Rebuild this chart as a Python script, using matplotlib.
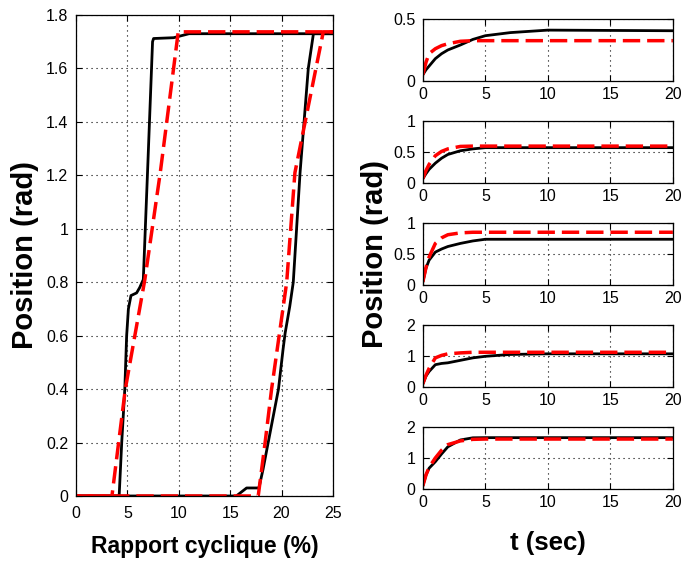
import matplotlib
matplotlib.use("Agg")
import matplotlib.pyplot as plt

plt.rcParams['font.family'] = ['Liberation Sans', 'DejaVu Sans']

# Hysteresis: position vs duty cycle
duty_meas_up = [0, 4.2, 4.45, 4.75, 4.93, 5.1, 5.35, 5.9, 6.2, 6.55, 7.0, 7.45, 7.55, 9.5, 10.2, 11, 25]
pos_meas_up = [0, 0, 0.2, 0.4, 0.6, 0.7, 0.75, 0.76, 0.78, 0.81, 1.25, 1.70, 1.712, 1.715, 1.722, 1.73, 1.73]
duty_meas_down = [25, 23.1, 22.6, 21.8, 21.14, 20.8, 20.35, 20.15, 19.7, 19.2, 18.7, 18.2, 17.8, 16.6, 15.6, 0]
pos_meas_down = [1.73, 1.73, 1.6, 1.21, 0.8, 0.71, 0.61, 0.55, 0.4, 0.3, 0.2, 0.1, 0.03, 0.03, 0.0, 0]

duty_model_up = [0, 3.5, 4.8, 6.7, 8.2, 9.95, 25]
pos_model_up = [0, 0, 0.4, 0.81, 1.21, 1.737, 1.737]
duty_model_down = [25, 24.06, 21.3, 20.5, 19.03, 18.4, 17.73, 0]
pos_model_down = [1.737, 1.737, 1.21, 0.8, 0.4, 0.2, 0, 0]

# Step responses: position vs time
t = [0, 0.25, 0.5, 1, 1.5, 2, 3, 4, 5, 7, 10, 20]
step_meas = [
    [0.05, 0.09, 0.12, 0.18, 0.22, 0.25, 0.29, 0.335, 0.365, 0.39, 0.41, 0.405],
    [0.07, 0.15, 0.22, 0.32, 0.40, 0.46, 0.52, 0.55, 0.57, 0.57, 0.57, 0.57],
    [0.05, 0.27, 0.40, 0.53, 0.58, 0.62, 0.67, 0.71, 0.737, 0.737, 0.737, 0.737],
    [0.10, 0.35, 0.50, 0.72, 0.76, 0.78, 0.86, 0.94, 0.99, 1.05, 1.07, 1.07],
    [0.10, 0.45, 0.67, 0.88, 1.13, 1.36, 1.58, 1.65, 1.655, 1.655, 1.655, 1.655],
]
step_model = [
    [0.05, 0.15, 0.22, 0.26, 0.285, 0.30, 0.32, 0.325, 0.325, 0.325, 0.325, 0.325],
    [0.07, 0.20, 0.30, 0.44, 0.51, 0.55, 0.59, 0.595, 0.595, 0.595, 0.595, 0.595],
    [0.05, 0.28, 0.45, 0.67, 0.76, 0.81, 0.84, 0.85, 0.85, 0.85, 0.85, 0.85],
    [0.10, 0.38, 0.60, 0.94, 1.02, 1.07, 1.10, 1.12, 1.12, 1.12, 1.12, 1.12],
    [0.10, 0.45, 0.70, 1.00, 1.25, 1.43, 1.55, 1.60, 1.61, 1.61, 1.61, 1.61],
]
step_ylim = [0.5, 1, 1, 2, 2]
step_yticks = [[0, 0.5], [0, 0.5, 1], [0, 0.5, 1], [0, 1, 2], [0, 1, 2]]
step_xticks = [0, 5, 10, 15, 20]

duty_xticks = [0, 5, 10, 15, 20, 25]
pos_yticks = [0, 0.2, 0.4, 0.6, 0.8, 1, 1.2, 1.4, 1.6, 1.8]

BLACK_KW = dict(color='black', lw=2.0, solid_joinstyle='round')
RED_KW = dict(color='red', lw=2.5, dashes=(5, 2))
GRID_KW = dict(color='black', lw=0.8, linestyle=(0, (1, 3.5)))
TICK_FS = 11.5


def style_axes(ax, xpad):
    ax.tick_params(direction='in', top=True, right=True, length=4, width=0.8,
                   labelsize=TICK_FS)
    ax.tick_params(axis='x', pad=xpad)
    ax.tick_params(axis='y', pad=5.5)
    for s in ax.spines.values():
        s.set_linewidth(0.9)
    ax.grid(True, **GRID_KW)
    ax.set_axisbelow(True)


fig = plt.figure(figsize=(6.82, 5.64), dpi=100)

axL = fig.add_axes([0.1114, 0.1206, 0.3768, 0.8528])
axL.plot(duty_meas_up, pos_meas_up, **BLACK_KW)
axL.plot(duty_meas_down, pos_meas_down, **BLACK_KW)
axL.plot(duty_model_up, pos_model_up, **RED_KW)
axL.plot(duty_model_down, pos_model_down, **RED_KW)
axL.set_xlim(0, 25)
axL.set_ylim(0, 1.8)
axL.set_xticks(duty_xticks)
axL.set_yticks(pos_yticks)
axL.set_yticklabels(['0', '0.2', '0.4', '0.6', '0.8', '1', '1.2', '1.4', '1.6', '1.8'])
style_axes(axL, xpad=7.5)
axL.set_xlabel('Rapport cyclique (%)', fontsize=16.5, fontweight='bold', labelpad=10)
axL.set_ylabel('Position (rad)', fontsize=21, fontweight='bold', labelpad=5)

bottoms = [0.8564, 0.6755, 0.4947, 0.3138, 0.1330]
for i, b in enumerate(bottoms):
    ax = fig.add_axes([0.620, b, 0.3666, 0.110])
    ax.plot(t, step_meas[i], **BLACK_KW)
    ax.plot(t, step_model[i], **RED_KW)
    ax.set_xlim(0, 20)
    ax.set_ylim(0, step_ylim[i])
    ax.set_xticks(step_xticks)
    ax.set_yticks(step_yticks[i])
    ax.set_yticklabels([('%g' % v) for v in step_yticks[i]])
    style_axes(ax, xpad=4.5)
    if i == 2:
        ax.set_ylabel('Position (rad)', fontsize=21, fontweight='bold', labelpad=3)
    if i == 4:
        ax.set_xlabel('t (sec)', fontsize=18.5, fontweight='bold', labelpad=15)

fig.savefig('out.png', dpi=100)
